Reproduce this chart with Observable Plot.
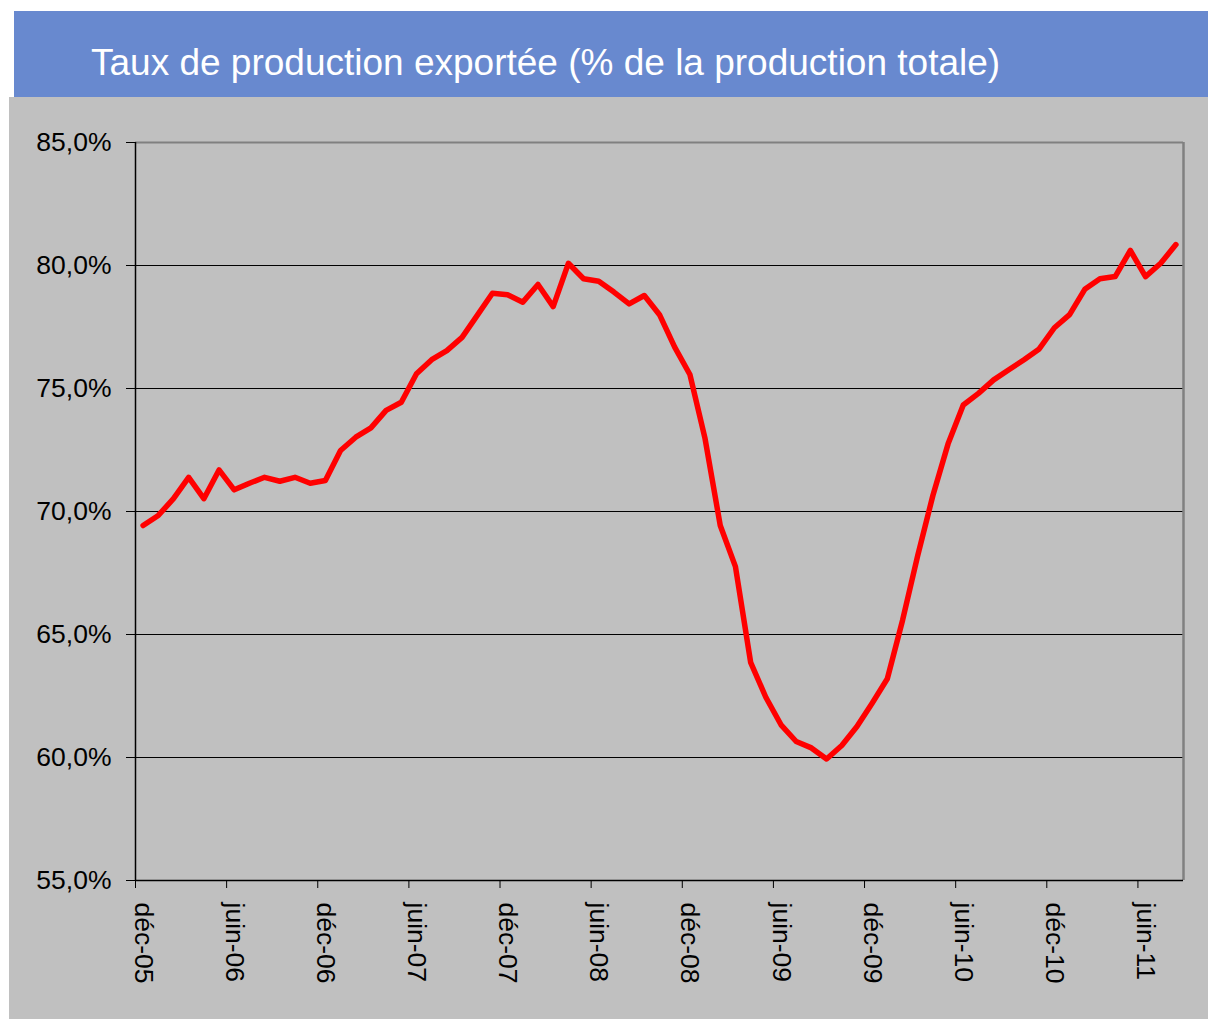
<!DOCTYPE html>
<html>
<head>
<meta charset="utf-8">
<script src="https://cdn.jsdelivr.net/npm/d3@7"></script>
<script src="https://cdn.jsdelivr.net/npm/@observablehq/plot@0.6"></script>
<style>
  html, body { margin: 0; padding: 0; background: #ffffff; }
  #page { position: relative; width: 1208px; height: 1022px; overflow: hidden; }
  #title {
    position: absolute; left: 14px; top: 11px; width: 1194px; height: 86px;
    background: #6889CF; color: #ffffff;
    font-family: "Liberation Sans", Arial, sans-serif; font-size: 37px;
    box-sizing: border-box; padding-left: 77px; padding-top: 9px; line-height: 86px; white-space: nowrap;
  }
  #panel { position: absolute; left: 9px; top: 97px; width: 1199px; height: 922px; background: #C0C0C0; }
  #panel svg { display: block; }
</style>
</head>
<body>
<div id="page">
  <div id="title">Taux de production exportée (% de la production totale)</div>
  <div id="panel"></div>
</div>
<script>
// Monthly values, déc-05 … août-11 (% of total production exported)
const values = [
  69.43, 69.84, 70.52, 71.39, 70.52, 71.69, 70.88, 71.15, 71.39, 71.23,
  71.39, 71.15, 71.26, 72.48, 73.02, 73.40, 74.11, 74.44, 75.60, 76.17,
  76.54, 77.08, 77.97, 78.87, 78.81, 78.51, 79.23, 78.33, 80.09, 79.46,
  79.36, 78.92, 78.44, 78.78, 78.00, 76.68, 75.57, 72.96, 69.43, 67.76,
  63.87, 62.45, 61.33, 60.65, 60.39, 59.94, 60.49, 61.26, 62.21, 63.20,
  65.57, 68.21, 70.65, 72.75, 74.33, 74.80, 75.35, 75.76, 76.17, 76.61,
  77.47, 78.00, 79.03, 79.46, 79.55, 80.61, 79.55, 80.09, 80.85
];
// Category labels shown every 6 months and their category index
const tickLabels = ["déc-05","juin-06","déc-06","juin-07","déc-07","juin-08","déc-08","juin-09","déc-09","juin-10","déc-10","juin-11"];
const tickIndex  = [0, 6, 12, 18, 24, 30, 36, 42, 48, 54, 60, 66];
const yTicks = [55, 60, 65, 70, 75, 80, 85];
const gridValues = [60, 65, 70, 75, 80];

const series = values.map((v, i) => ({cat: i + 0.5, v}));
const labels = tickLabels.map((t, k) => ({cat: tickIndex[k] + 0.5, t}));
const n = values.length;

const chart = Plot.plot({
  width: 1199,
  height: 922,
  marginLeft: 126,
  marginRight: 25,
  marginTop: 45,
  marginBottom: 139,
  style: {background: "transparent", fontFamily: "'Liberation Sans', Arial, sans-serif", fontSize: "26px", color: "#000"},
  x: {domain: [0, n], axis: null, label: null},
  y: {domain: [55, 85], axis: null, label: null},
  marks: [
    Plot.ruleY(gridValues, {stroke: "#000", strokeWidth: 1}),
    Plot.ruleY([85], {stroke: "#808080", strokeWidth: 2}),
    Plot.ruleX([n], {stroke: "#808080", strokeWidth: 2.5}),
    Plot.axisY({ticks: yTicks, label: null, tickSize: 9, tickPadding: 15, tickFormat: d => d.toFixed(1).replace(".", ",") + "%", fontSize: 26.5, stroke: "#000"}),
    Plot.axisX({ticks: tickIndex, label: null, tickSize: 8, tickFormat: () => "", stroke: "#000"}),
    Plot.ruleX([0], {stroke: "#000", strokeWidth: 1.5}),
    Plot.ruleY([55], {stroke: "#000", strokeWidth: 1.5}),
    Plot.text(labels, {x: "cat", text: "t", frameAnchor: "bottom", dy: 22, rotate: 90, textAnchor: "start", lineAnchor: "middle", fontSize: 26.5, fill: "#000"}),
    Plot.line(series, {x: "cat", y: "v", stroke: "#FF0000", strokeWidth: 5.5, strokeLinejoin: "round", strokeLinecap: "round"})
  ]
});
document.getElementById("panel").appendChild(chart);
</script>
</body>
</html>
